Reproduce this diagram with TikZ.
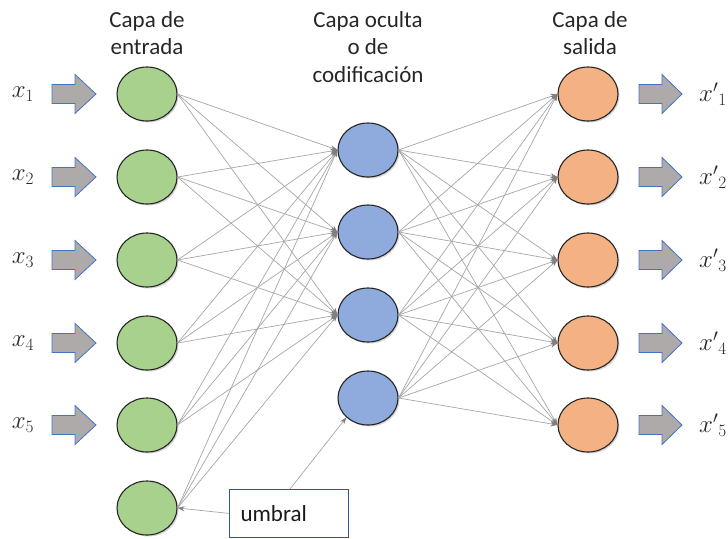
\documentclass[tikz,border=0pt]{standalone}
\usepackage{fontspec}
\setmainfont{Carlito}
\usetikzlibrary{shapes.geometric,arrows.meta,shadows}
\definecolor{ingreen}{HTML}{A9D18E}
\definecolor{hidblue}{HTML}{8FAADC}
\definecolor{outorange}{HTML}{F4B183}
\definecolor{arrfill}{HTML}{AEAAAA}
\definecolor{arrline}{HTML}{4472C4}
\definecolor{boxline}{HTML}{2F5597}
\definecolor{conn}{HTML}{A6A6A6}
\definecolor{tipc}{HTML}{7F7F7F}
\tikzset{
  neuron/.style={ellipse, draw=black!85, line width=1.1pt, minimum width=60pt, minimum height=54pt, inner sep=0pt,
    drop shadow={shadow xshift=1.5pt, shadow yshift=-1.5pt, opacity=0.35}},
  innode/.style={neuron, fill=ingreen},
  hidnode/.style={neuron, fill=hidblue},
  outnode/.style={neuron, fill=outorange},
  link/.style={draw=conn, line width=0.7pt, -{Stealth[length=7pt,width=5pt,color=tipc]}},
  title/.style={font=\fontsize{23}{27.5}\selectfont, align=center, text=black!85},
  varlabel/.style={font=\fontsize{25}{28}\selectfont, text=black!85},
  bigarrow/.style={fill=arrfill, draw=arrline, line width=0.8pt, line join=miter},
}
\begin{document}
\begin{tikzpicture}[x=1pt,y=-1pt]
\useasboundingbox (0,0) rectangle (728,538);
% titles
\node[title] (t1) at (147,33) {Capa de\\entrada};
\node[title] (t2) at (368,47) {Capa oculta\\o de\\codificación};
\node[title] (t3) at (590,33) {Capa de\\salida};
% input nodes
\foreach \i/\y in {1/94,2/177,3/260,4/343,5/425,6/508}{
  \node[innode] (in\i) at (147,\y) {};
}
% hidden nodes
\foreach \i/\y in {1/150,2/232,3/315,4/398}{
  \node[hidnode] (h\i) at (368,\y) {};
}
% output nodes
\foreach \i/\y in {1/94,2/177,3/260,4/343,5/425}{
  \node[outnode] (o\i) at (588,\y) {};
}
% connections input -> hidden
\foreach \i in {1,...,6}{
  \foreach \j in {1,2,3}{
    \path[link] (in\i.east) -- (h\j.west);
  }
}
% connections hidden -> output
\foreach \i in {1,...,4}{
  \foreach \j in {1,...,5}{
    \path[link] (h\i.east) -- (o\j.west);
  }
}
% input arrows and labels
\foreach \i/\y in {1/94,2/177,3/260,4/343,5/425}{
  \path[bigarrow] (52,\y-9.5) -- (75,\y-9.5) -- (75,\y-19.5) -- (96,\y) -- (75,\y+19.5) -- (75,\y+9.5) -- (52,\y+9.5) -- cycle;
  \node[varlabel] (x\i) at (23,\y) {$x_{\i}$};
}
% output arrows and labels
\foreach \i/\y in {1/94,2/177,3/260,4/343,5/425}{
  \path[bigarrow] (639,\y-9.5) -- (662,\y-9.5) -- (662,\y-19.5) -- (682,\y) -- (662,\y+19.5) -- (662,\y+9.5) -- (639,\y+9.5) -- cycle;
  \node[varlabel] (xp\i) at (713,\y) {$x'{}_{\i}$};
}
% umbral box
\node[draw=boxline, line width=0.8pt, minimum width=119pt, minimum height=48pt, inner sep=0pt,
  anchor=north west] (umb) at (229,489) {};
\node[font=\fontsize{23}{27}\selectfont, text=black!90, anchor=west] (umbtxt) at (237,514) {umbral};
\coordinate (umbtop) at (290,489);
\path[link] (umb.west) -- (in6.east);
\path[link] (umbtop) -- (h4.south west);
\end{tikzpicture}
\end{document}
